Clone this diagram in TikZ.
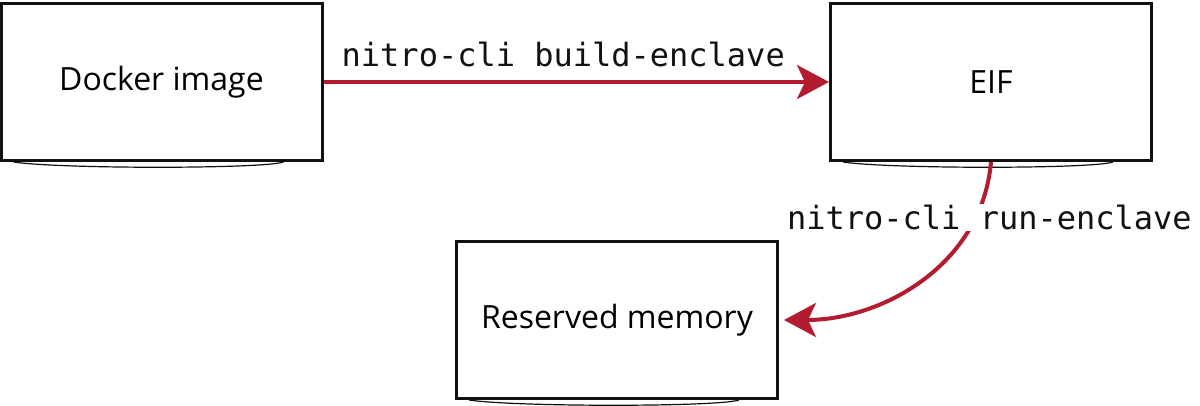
\documentclass[tikz,border=0pt]{standalone}
\usepackage{fontspec}
\setmainfont{Open Sans}
\setmonofont{DejaVu Sans Mono}
\usetikzlibrary{positioning, arrows.meta}
\definecolor{xred}{HTML}{B31B2F}
\definecolor{xink}{HTML}{111111}
\begin{document}
\begin{tikzpicture}[x=1pt, y=-1pt,
    font=\fontsize{32}{38}\selectfont,
    box/.style={draw=xink, line width=3pt, fill=white, inner sep=0pt,
                minimum width=321pt, minimum height=157pt},
    sketch/.style={xink, line width=1.2pt},
    cmd/.style={font=\ttfamily\fontsize{32}{38}\selectfont, text=xink},
    flow/.style={xred, line width=4pt, -{Stealth[length=32pt, width=34pt, inset=8pt]}}]
    \useasboundingbox (0,0) rectangle (1200,406);
    \node[box] (docker) at (161.5,82)  {Docker image};
    \node[box] (eif)    at (991,82)    {EIF};
    \node[box] (mem)    at (617,320)   {Reserved memory};
    % second stroke under each box, hand drawn look
    \foreach \b in {docker, eif, mem}
      \draw[sketch] ([xshift=14pt]\b.south west) .. controls ([xshift=60pt, yshift=-7pt]\b.south west)
        and ([xshift=-60pt, yshift=-7pt]\b.south east) .. ([xshift=-40pt]\b.south east);
    \draw[flow] (docker) -- (eif)
      node[cmd, midway, above=10pt, xshift=-13pt] {nitro-cli build-enclave};
    \draw[flow, shorten >=5pt] (eif.south) to[out=-95, in=0]
      node[cmd, pos=0.2, xshift=14pt, fill=white, inner sep=1pt] {nitro-cli run-enclave} (mem.east);
  \end{tikzpicture}
\end{document}
